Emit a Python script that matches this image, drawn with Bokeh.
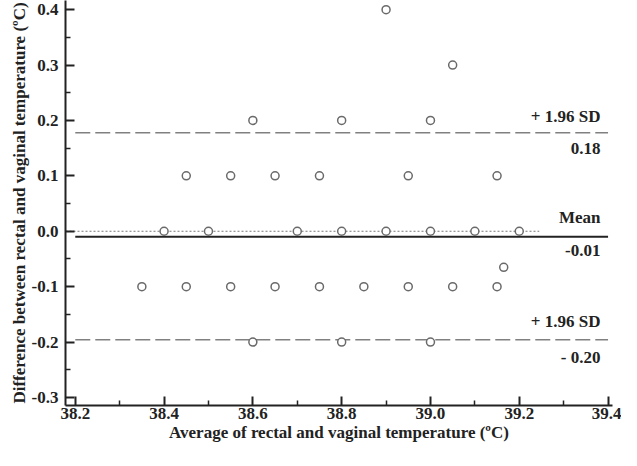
from bokeh.plotting import figure
from bokeh.models import Range1d, FixedTicker, NumeralTickFormatter, Label
from bokeh.embed import file_html
from bokeh.resources import INLINE

# Data
avg_temp = [38.9,
            39.05,
            38.6, 38.8, 39.0,
            38.45, 38.55, 38.65, 38.75, 38.95, 39.15,
            38.4, 38.5, 38.7, 38.8, 38.9, 39.0, 39.1, 39.2,
            38.35, 38.45, 38.55, 38.65, 38.75, 38.85, 38.95, 39.05, 39.15,
            39.165,
            38.6, 38.8, 39.0]
diff_temp = [0.4,
             0.3,
             0.2, 0.2, 0.2,
             0.1, 0.1, 0.1, 0.1, 0.1, 0.1,
             0.0, 0.0, 0.0, 0.0, 0.0, 0.0, 0.0, 0.0,
             -0.1, -0.1, -0.1, -0.1, -0.1, -0.1, -0.1, -0.1, -0.1,
             -0.065,
             -0.2, -0.2, -0.2]
mean_diff = -0.01
upper_loa = 0.178
lower_loa = -0.196
x_ticks = [38.2, 38.4, 38.6, 38.8, 39.0, 39.2, 39.4]
y_ticks = [-0.3, -0.2, -0.1, 0.0, 0.1, 0.2, 0.3, 0.4]
x_title = "Average of rectal and vaginal temperature (ºC)"
y_title = "Difference between rectal and vaginal temperature (ºC)"

FONT = "Liberation Serif"
X0, X1 = 38.178, 39.41
Y0, Y1 = -0.3145, 0.4165

p = figure(width=621, height=450, output_backend="svg", toolbar_location=None,
           x_range=Range1d(X0, X1), y_range=Range1d(Y0, Y1),
           min_border_left=65, min_border_right=9, min_border_top=0, min_border_bottom=45)
p.outline_line_color = None
p.xgrid.visible = False
p.ygrid.visible = False
p.background_fill_color = "white"

# reference lines
p.line([X0, 39.245], [0.0, 0.0], line_color="#777777", line_width=1.2, line_dash="2 2")
p.line([38.2, 39.4], [mean_diff, mean_diff], line_color="#222222", line_width=2)
p.line([38.2, 39.4], [upper_loa, upper_loa], line_color="#808080", line_width=1.5, line_dash="15 5")
p.line([38.2, 39.4], [lower_loa, lower_loa], line_color="#808080", line_width=1.5, line_dash="15 5")

p.scatter(avg_temp, diff_temp, marker="circle", size=8, fill_color="white",
          line_color="#6a6a6a", line_width=1.5)

def lab(y, txt, yoff):
    p.add_layout(Label(x=39.383, y=y, text=txt, text_align="right", y_offset=yoff,
                       text_font=FONT, text_font_style="bold",
                       text_font_size="17px", text_color="#222222",
                       text_baseline="middle"))

lab(upper_loa, "+ 1.96 SD", 16)
lab(upper_loa, "0.18", -16)
lab(mean_diff, "Mean", 19)
lab(mean_diff, "-0.01", -14)
lab(lower_loa, "+ 1.96 SD", 18)
lab(lower_loa, "- 0.20", -18)

for ax in (p.xaxis[0], p.yaxis[0]):
    ax.axis_line_width = 2
    ax.axis_line_color = "#222222"
    ax.major_tick_line_width = 2
    ax.major_tick_line_color = "#222222"
    ax.minor_tick_line_width = 1.5
    ax.minor_tick_line_color = "#222222"
    ax.major_tick_in = 9
    ax.major_tick_out = 0
    ax.minor_tick_in = 5
    ax.minor_tick_out = 0
    ax.major_label_text_font = FONT
    ax.major_label_text_font_style = "bold"
    ax.major_label_text_font_size = "17px"
    ax.major_label_text_color = "#222222"
    ax.axis_label_text_font = FONT
    ax.axis_label_text_font_style = "bold"
    ax.axis_label_text_font_size = "17px"
    ax.axis_label_text_color = "#222222"
    ax.formatter = NumeralTickFormatter(format="0.0")

p.xaxis[0].ticker = FixedTicker(ticks=x_ticks,
                                minor_ticks=[38.3, 38.5, 38.7, 38.9, 39.1, 39.3])
p.yaxis[0].ticker = FixedTicker(ticks=y_ticks,
                                minor_ticks=[-0.25, -0.15, -0.05, 0.05, 0.15, 0.25, 0.35])
p.xaxis[0].axis_label = x_title
p.yaxis[0].axis_label = y_title
p.xaxis[0].major_label_standoff = 2
p.yaxis[0].major_label_standoff = 7
p.xaxis[0].axis_label_standoff = 1
p.yaxis[0].axis_label_standoff = 0

open("out.html", "w").write(file_html(p, INLINE))
